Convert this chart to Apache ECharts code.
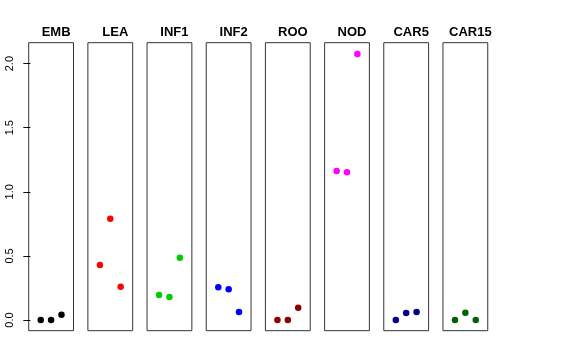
<!DOCTYPE html>
<html><head><meta charset="utf-8">
<script src="https://cdn.jsdelivr.net/npm/echarts@6/dist/echarts.min.js"></script>
<style>html,body{margin:0;padding:0;background:#fff}#c{width:576px;height:360px}</style>
</head><body><div id="c"></div>
<script>
var categories = ["EMB","LEA","INF1","INF2","ROO","NOD","CAR5","CAR15"];
var colors = ["#000000","#FF0000","#00CD00","#0000FF","#8B0000","#FF00FF","#00008B","#006400"];
var xPositions = [1, 2, 3];
var valsEMB = [0.0, 0.0, 0.041];
var valsLEA = [0.43, 0.79, 0.26];
var valsINF1 = [0.195, 0.18, 0.485];
var valsINF2 = [0.255, 0.24, 0.062];
var valsROO = [0.0, 0.0, 0.096];
var valsNOD = [1.163, 1.153, 2.075];
var valsCAR5 = [0.0, 0.055, 0.062];
var valsCAR15 = [0.0, 0.057, 0.0];
var yTicks = [0, 0.5, 1.0, 1.5, 2.0];
var yTickLabels = ["0.0","0.5","1.0","1.5","2.0"];

var allVals = [valsEMB, valsLEA, valsINF1, valsINF2, valsROO, valsNOD, valsCAR5, valsCAR15];

(function () {
var chart = echarts.init(document.getElementById('c'), null, {renderer:'canvas'});
var grids = [], xAxes = [], yAxes = [], series = [], titles = [];
var left0 = 28.7, step = 59.18, w = 44.8, gTop = 42.7, gH = 288;
for (var i = 0; i < categories.length; i++) {
  var l = left0 + i * step;
  grids.push({left: l, top: gTop, width: w, height: gH, show: true, borderColor: '#333', borderWidth: 1, backgroundColor: 'transparent'});
  xAxes.push({gridIndex: i, type: 'value', min: -0.16, max: 4.16, show: false});
  var ya = {gridIndex: i, type: 'value', min: -0.083, max: 2.163, splitLine: {show: false}};
  if (i === 0) {
    ya.axisLine = {show: false};
    ya.axisTick = {show: true, inside: false, length: 7, lineStyle: {color: '#000'}, customValues: yTicks};
    ya.axisLabel = {show: true, rotate: 90, margin: 13, fontSize: 11, color: '#000', fontFamily: 'Liberation Sans',
      customValues: yTicks, formatter: function (v) { var k = yTicks.indexOf(v); return k >= 0 ? yTickLabels[k] : v.toFixed(1); }};
  } else {
    ya.show = false;
  }
  yAxes.push(ya);
  titles.push({text: categories[i], left: l + w / 2, top: 21, textAlign: 'center',
    textStyle: {fontSize: 13, fontWeight: 'bold', color: '#000', fontFamily: 'Liberation Sans'}});
  var d = [];
  for (var j = 0; j < xPositions.length; j++) d.push([xPositions[j], allVals[i][j]]);
  series.push({type: 'scatter', xAxisIndex: i, yAxisIndex: i, data: d, symbol: 'circle', symbolSize: 6.5,
    itemStyle: {color: colors[i], opacity: 1}, silent: true});
}
chart.setOption({
  animation: false,
  backgroundColor: '#fff',
  title: titles,
  grid: grids,
  xAxis: xAxes,
  yAxis: yAxes,
  series: series
});
})();
</script></body></html>
